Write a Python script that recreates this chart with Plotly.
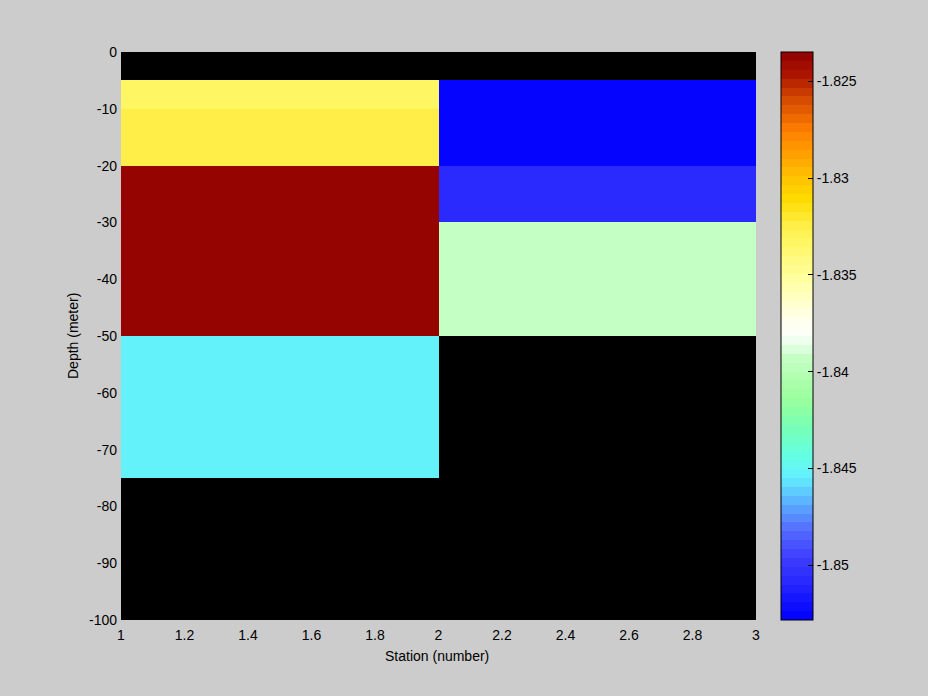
import numpy as np
import plotly.graph_objects as go

# ---------------- data ----------------
station_edges = [1, 2, 3]
depth_edges = [0, -5, -10, -20, -30, -50, -75, -100]
# temperature per cell (rows: depth layers from surface down; cols: station 1, station 2)
station1_values = [np.nan, -1.8332, -1.83225, -1.8237, -1.8237, -1.8454, np.nan]
station2_values = [np.nan, -1.8526, -1.8526, -1.8509, -1.8393, np.nan, np.nan]

cmin, cmax = -1.85283, -1.82348
x_tickvals = [1, 1.2, 1.4, 1.6, 1.8, 2, 2.2, 2.4, 2.6, 2.8, 3]
x_ticktext = ["1", "1.2", "1.4", "1.6", "1.8", "2", "2.2", "2.4", "2.6", "2.8", "3"]
y_tickvals = [0, -10, -20, -30, -40, -50, -60, -70, -80, -90, -100]
y_ticktext = ["0", "-10", "-20", "-30", "-40", "-50", "-60", "-70", "-80", "-90", "-100"]
cb_tickvals = [-1.825, -1.83, -1.835, -1.84, -1.845, -1.85]
cb_ticktext = ["-1.825", "-1.83", "-1.835", "-1.84", "-1.845", "-1.85"]

# ---------------- colormap (64 discrete bands) ----------------
anchors = [
    (0.000, (0, 0, 255)),
    (0.065, (39, 39, 255)),
    (0.110, (62, 62, 255)),
    (0.160, (85, 110, 255)),
    (0.210, (92, 180, 255)),
    (0.252, (99, 240, 255)),
    (0.290, (100, 255, 225)),
    (0.340, (120, 255, 180)),
    (0.390, (155, 255, 155)),
    (0.461, (196, 255, 196)),
    (0.500, (250, 255, 250)),
    (0.530, (255, 255, 235)),
    (0.600, (255, 255, 160)),
    (0.664, (255, 246, 99)),
    (0.695, (255, 238, 72)),
    (0.740, (255, 220, 0)),
    (0.780, (255, 192, 0)),
    (0.860, (255, 128, 0)),
    (0.920, (210, 70, 0)),
    (0.960, (172, 22, 0)),
    (1.000, (145, 0, 0)),
]
pos = [a[0] for a in anchors]
cols = np.array([a[1] for a in anchors], dtype=float)
N = 64
colorscale = []
for i in range(N):
    t = (i + 0.5) / N
    c = [int(round(np.interp(t, pos, cols[:, k]))) for k in range(3)]
    cs = f"rgb({c[0]},{c[1]},{c[2]})"
    colorscale.append([i / N, cs])
    colorscale.append([(i + 1) / N, cs])

z = [[a, b] for a, b in zip(station1_values, station2_values)]

FONT = "Liberation Sans, Arial, sans-serif"
W, H = 928, 696
L, R, T, B = 121, 172, 52, 76
pw, ph = W - L - R, H - T - B

cb_x = (781 - L) / pw

fig = go.Figure()
fig.add_trace(go.Heatmap(
    x=station_edges, y=depth_edges, z=z,
    zmin=cmin, zmax=cmax, colorscale=colorscale,
    hoverongaps=False,
    colorbar=dict(
        x=cb_x, xanchor="left", xpad=0, ypad=0,
        y=0.5, yanchor="middle", len=1, lenmode="fraction",
        thickness=32, thicknessmode="pixels",
        outlinecolor="black", outlinewidth=1,
        tickvals=cb_tickvals, ticktext=cb_ticktext,
        ticks="inside", ticklen=5, tickcolor="black", tickwidth=1,
        tickfont=dict(family=FONT, size=14, color="black"),
    ),
))

# left-side colorbar ticks (MATLAB draws ticks on both inner edges)
for v in cb_tickvals:
    yp = (v - cmin) / (cmax - cmin)
    fig.add_shape(type="line", xref="paper", yref="paper",
                  x0=(782 - L) / pw, x1=(787 - L) / pw, y0=yp, y1=yp,
                  line=dict(color="black", width=1))

fig.update_layout(
    width=W, height=H,
    margin=dict(l=L, r=R, t=T, b=B, pad=0),
    paper_bgcolor="#cccccc", plot_bgcolor="black",
    font=dict(family=FONT, size=14, color="black"),
    showlegend=False,
    xaxis=dict(range=[1, 3], tickvals=x_tickvals, ticktext=x_ticktext,
               showgrid=False, zeroline=False, ticks="", showline=False,
               ticklabelstandoff=5,
               tickfont=dict(family=FONT, size=14, color="black")),
    yaxis=dict(range=[-100, 0], tickvals=y_tickvals, ticktext=y_ticktext,
               showgrid=False, zeroline=False, ticks="", showline=False,
               ticklabelstandoff=3,
               tickfont=dict(family=FONT, size=14, color="black")),
    annotations=[
        dict(text="Station (number)", xref="paper", yref="paper",
             x=(437 - L) / pw, y=-(656 - (T + ph)) / ph, xanchor="center", yanchor="middle",
             showarrow=False, font=dict(family=FONT, size=14, color="black")),
        dict(text="Depth (meter)", xref="paper", yref="paper",
             x=-(L - 73) / pw, y=(T + ph - 336) / ph, xanchor="center", yanchor="middle",
             textangle=-90, showarrow=False, font=dict(family=FONT, size=14, color="black")),
    ],
)

fig.write_html("out.html", config={"displayModeBar": False},
               post_script="document.body.style.margin='0px';document.body.style.padding='0px';")
